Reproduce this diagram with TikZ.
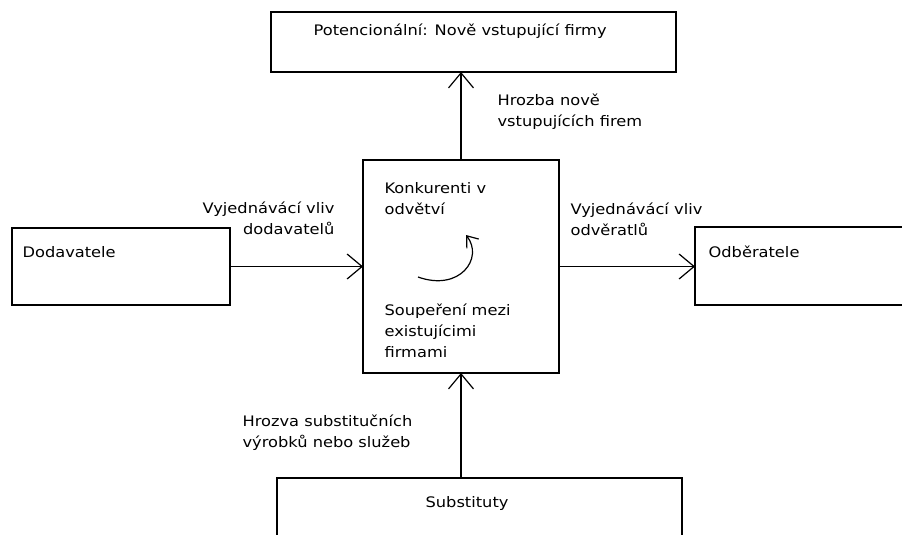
\documentclass[tikz,border=0pt]{standalone}
\usepackage{fontspec}
\setmainfont{DejaVu Sans}[FakeStretch=1.12]
\usetikzlibrary{arrows.meta}

\begin{document}
\begin{tikzpicture}[x=1pt, y=-1pt, line width=1.2pt,
    box/.style={draw, inner sep=0pt, outer sep=0pt},
    lbl/.style={inner sep=0pt, anchor=base west, align=left,
      font=\fontsize{14.5}{21}\selectfont},
    arr/.style={-{Straight Barb[length=15pt, width=25pt, line width=1.2pt]}}]
    \clip (0,0) rectangle (902,535);
    \node [box, minimum width=405, minimum height=60] (pot) at (473.5,42) {};
    \node [box, minimum width=196, minimum height=213] (konk) at (461,266.5) {};
    \node [box, minimum width=218, minimum height=77] (dod) at (121,266.5) {};
    \node [box, minimum width=265, minimum height=78] (odb) at (827.5,266) {};
    \node [box, minimum width=405, minimum height=102] (sub) at (479.5,529) {};
    \node [lbl] (potT) at (313,36) {Potencionální: Nově vstupující firmy};
    \node [lbl] (dodT) at (22,257) {Dodavatele};
    \node [lbl] (odbT) at (708,257) {Odběratele};
    \node [lbl] (subT) at (425,507) {Substituty};
    \node [lbl] (konkT) at (384,214) {Konkurenti v\\odvětví};
    \node [lbl] (soupT) at (384,357) {Soupeření mezi\\existujícimi\\firmami};
    \node [lbl] (hrozT) at (497,126) {Hrozba nově\\vstupujících firem};
    \node [lbl, anchor=base east, align=right] (vlivD) at (335,234) {Vyjednávácí vliv\\dodavatelů};
    \node [lbl] (vlivO) at (570,235) {Vyjednávácí vliv\\odvěratlů};
    \node [lbl] (subsT) at (242,447) {Hrozva substitučních\\výrobků nebo služeb};
    \draw [arr] (konk.north) -- (konk.north |- pot.south);
    \draw [arr] (dod.east) -- (dod.east -| konk.west);
    \draw [arr] (konk.east) -- (konk.east -| odb.west);
    \draw [arr] (konk.south |- sub.north) -- (konk.south);
    \coordinate (rivA) at (418,277);
    \coordinate (rivB) at (466,235);
    \draw [-{Straight Barb[length=10pt, width=15pt, line width=1.2pt]}] (rivA) .. controls (460,292) and (484,258) .. (rivB);
\end{tikzpicture}
\end{document}
